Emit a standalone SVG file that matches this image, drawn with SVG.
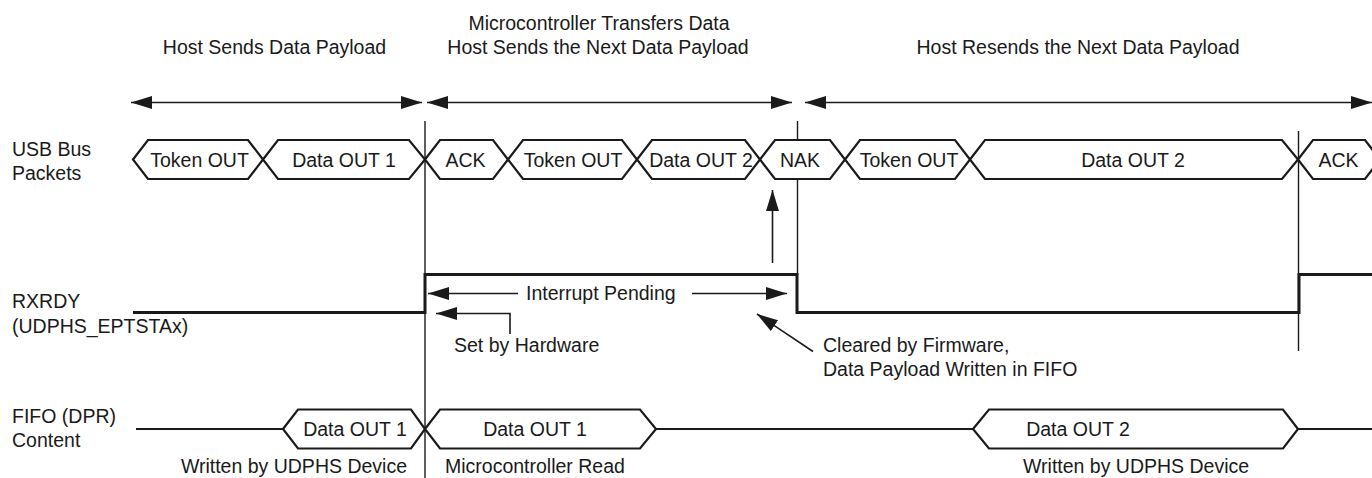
<svg xmlns="http://www.w3.org/2000/svg" width="1372" height="478" viewBox="0 0 1372 478">
<style>
text{font-family:"Liberation Sans",Arial,Helvetica,sans-serif;font-size:19.5px;fill:#1a1a1a}
.m{text-anchor:middle}
.e{text-anchor:end}
.pk{fill:#fff;stroke:#1a1a1a;stroke-width:2.2;stroke-linejoin:miter}
.thin{stroke:#1a1a1a;stroke-width:1.4;fill:none}
.arr{stroke:#1a1a1a;stroke-width:1.6;fill:none}
.sig{stroke:#1a1a1a;stroke-width:3;fill:none}
.wire{stroke:#1a1a1a;stroke-width:2.2;fill:none}
</style>
<defs>
<marker id="ah" markerUnits="userSpaceOnUse" markerWidth="22" markerHeight="14" refX="21" refY="6.5" orient="auto-start-reverse">
<path d="M0,0 L21,6.5 L0,13 z" fill="#1a1a1a"/>
</marker>
</defs>
<rect width="1372" height="478" fill="#fff"/>

<g id="titles">
<text class="m" x="274.5" y="54">Host Sends Data Payload</text>
<text class="m" x="599" y="29.5">Microcontroller Transfers Data</text>
<text class="m" x="598" y="53.5">Host Sends the Next Data Payload</text>
<text class="m" x="1078" y="54">Host Resends the Next Data Payload</text>
</g>

<g id="labels">
<text x="12" y="156">USB Bus</text>
<text x="12" y="180">Packets</text>
<text x="12" y="308">RXRDY</text>
<text x="12" y="333">(UDPHS_EPTSTAx)</text>
<text x="12" y="423">FIFO (DPR)</text>
<text x="12" y="447">Content</text>
</g>

<g id="connectors">
<line class="arr" x1="131" y1="102.5" x2="422" y2="102.5" marker-start="url(#ah)" marker-end="url(#ah)"/>
<line class="arr" x1="427" y1="102.5" x2="792" y2="102.5" marker-start="url(#ah)" marker-end="url(#ah)"/>
<line class="arr" x1="805" y1="102.5" x2="1372" y2="102.5" marker-start="url(#ah)" marker-end="url(#ah)"/>
<line class="thin" x1="425" y1="121" x2="425" y2="478"/>
<line class="thin" x1="797.5" y1="121" x2="797.5" y2="275"/>
<line class="thin" x1="1298.5" y1="131" x2="1298.5" y2="351"/>
<path class="sig" d="M133,312.5 H425 V274.5 H797 V312.5 H1299 V274.5 H1372"/>
<line class="arr" x1="518" y1="293.5" x2="428" y2="293.5" marker-end="url(#ah)"/>
<line class="arr" x1="692" y1="293.5" x2="787" y2="293.5" marker-end="url(#ah)"/>
<path class="arr" d="M510,334 V313.5 H436" marker-end="url(#ah)"/>
<line class="arr" x1="813" y1="351.5" x2="757" y2="314" marker-end="url(#ah)"/>
<line class="arr" x1="772.5" y1="263" x2="772.5" y2="190" marker-end="url(#ah)"/>
<path class="wire" d="M136,429 H283 M656,429 H973 M1298,429 H1372"/>
</g>

<g id="pkt-token1"><polygon class="pk" points="133,159.5 148,140 248,140 263,159.5 248,179 148,179"/><text class="m" x="199.5" y="167">Token OUT</text></g>
<g id="pkt-data1"><polygon class="pk" points="263,159.5 278,140 409,140 425,159.5 409,179 278,179"/><text class="m" x="344" y="167">Data OUT 1</text></g>
<g id="pkt-ack1"><polygon class="pk" points="425,159.5 440,140 493,140 508,159.5 493,179 440,179"/><text class="m" x="465.5" y="167">ACK</text></g>
<g id="pkt-token2"><polygon class="pk" points="508,159.5 523,140 622,140 637,159.5 622,179 523,179"/><text class="m" x="573" y="167">Token OUT</text></g>
<g id="pkt-data2a"><polygon class="pk" points="637,159.5 652,140 745,140 760,159.5 745,179 652,179"/><text class="m" x="701" y="167">Data OUT 2</text></g>
<g id="pkt-nak"><polygon class="pk" points="760,159.5 775,140 830,140 845,159.5 830,179 775,179"/><text class="m" x="800" y="167">NAK</text></g>
<g id="pkt-token3"><polygon class="pk" points="845,159.5 860,140 955,140 970,159.5 955,179 860,179"/><text class="m" x="909" y="167">Token OUT</text></g>
<g id="pkt-data2b"><polygon class="pk" points="970,159.5 985,140 1282,140 1298,159.5 1282,179 985,179"/><text class="m" x="1133" y="167">Data OUT 2</text></g>
<g id="pkt-ack2"><polygon class="pk" points="1298,159.5 1313,140 1365,140 1380,159.5 1365,179 1313,179"/><text class="m" x="1338.5" y="167">ACK</text></g>

<g id="fifo-data1a"><polygon class="pk" points="283,429 298,409.5 411,409.5 425,429 411,448.5 298,448.5"/><text class="m" x="355" y="435.5">Data OUT 1</text></g>
<g id="fifo-data1b"><polygon class="pk" points="425,429 440,409.5 640,409.5 656,429 640,448.5 440,448.5"/><text class="m" x="535" y="435.5">Data OUT 1</text></g>
<g id="fifo-data2"><polygon class="pk" points="973,429 989,409.5 1283,409.5 1298,429 1283,448.5 989,448.5"/><text class="m" x="1078" y="435.5">Data OUT 2</text></g>

<g id="annotations">
<text x="526" y="299.5">Interrupt Pending</text>
<text x="454" y="352">Set by Hardware</text>
<text x="823" y="352">Cleared by Firmware,</text>
<text x="823" y="376">Data Payload Written in FIFO</text>
<text class="e" x="407" y="473">Written by UDPHS Device</text>
<text x="445" y="473">Microcontroller Read</text>
<text x="1023" y="473">Written by UDPHS Device</text>
</g>
</svg>
